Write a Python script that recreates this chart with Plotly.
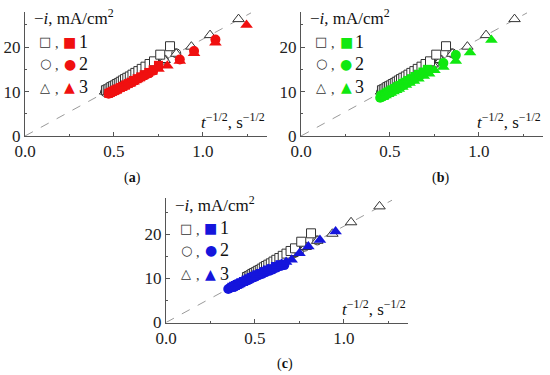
import plotly.graph_objects as go

W, H = 550, 375

# ---------------- data ----------------
# open reference markers (same in all three panels)
sq_x = [0.455,0.465,0.475,0.485,0.495,0.505,0.516,0.527,0.538,0.55,0.562,0.575,0.589,0.604,0.62,0.637,0.656,0.677,0.70,0.725,0.76,0.815]
sq_y = [10.3,10.5,10.7,11.0,11.2,11.4,11.7,11.9,12.2,12.5,12.8,13.1,13.4,13.8,14.2,14.6,15.1,15.6,16.2,16.8,18.3,20.2]
ci_x = [0.45,0.46,0.47,0.48,0.49,0.50,0.51,0.52,0.535,0.55,0.565,0.58,0.595,0.61,0.63,0.65,0.67,0.695,0.72,0.75,0.78,0.85]
ci_y = [9.9,10.1,10.3,10.5,10.7,10.9,11.1,11.3,11.7,12.0,12.3,12.7,13.0,13.3,13.8,14.2,14.6,15.2,15.7,16.4,17.2,18.6]
tr_x = [0.45,0.465,0.48,0.495,0.51,0.525,0.54,0.555,0.57,0.59,0.61,0.63,0.655,0.68,0.71,0.74,0.785,0.85,0.935,1.04,1.20]
tr_y = [10.0,10.2,10.5,10.8,11.1,11.4,11.8,12.1,12.4,12.9,13.3,13.7,14.3,14.8,15.5,16.1,17.1,18.5,20.1,22.7,26.3]

# panel (a) red
a_sq_x = [0.47,0.48,0.49,0.50,0.51,0.52,0.535,0.55,0.565,0.58,0.595,0.61,0.63,0.65,0.67,0.695,0.72,0.75]
a_sq_y = [9.6,9.8,10.0,10.2,10.4,10.6,10.9,11.2,11.5,11.8,12.1,12.5,12.9,13.3,13.8,14.3,14.9,15.9]
a_ci_x = [0.47,0.48,0.49,0.50,0.51,0.52,0.535,0.55,0.565,0.58,0.60,0.62,0.64,0.665,0.69,0.72,0.87,0.95,1.07]
a_ci_y = [9.5,9.7,9.9,10.1,10.3,10.5,10.8,11.1,11.4,11.7,12.1,12.5,13.0,13.5,14.0,14.7,17.2,19.1,21.7]
a_tr_x = [0.48,0.495,0.51,0.525,0.54,0.555,0.57,0.59,0.61,0.63,0.655,0.68,0.71,0.75,0.80,0.87,0.95,1.07,1.245]
a_tr_y = [9.6,9.9,10.2,10.5,10.8,11.1,11.4,11.8,12.2,12.7,13.2,13.7,14.4,15.1,15.8,16.9,18.6,21.0,25.0]

# panel (b) green
b_sq_x = [0.45,0.46,0.47,0.48,0.49,0.50,0.51,0.525,0.54,0.555,0.57,0.585,0.60,0.62,0.64,0.66,0.685,0.71]
b_sq_y = [9.0,9.2,9.4,9.7,9.9,10.1,10.4,10.7,11.1,11.4,11.8,12.1,12.5,12.9,13.4,13.9,14.4,15.0]
b_ci_x = [0.445,0.455,0.465,0.475,0.485,0.495,0.505,0.52,0.535,0.55,0.565,0.58,0.60,0.62,0.64,0.665,0.69,0.72,0.80,0.87]
b_ci_y = [8.6,8.8,9.0,9.2,9.5,9.7,9.9,10.3,10.6,11.0,11.3,11.6,12.1,12.5,13.0,13.5,14.1,14.8,16.4,18.2]
b_tr_x = [0.46,0.475,0.49,0.505,0.52,0.535,0.55,0.57,0.59,0.61,0.635,0.66,0.69,0.72,0.75,0.80,0.87,0.95,1.07]
b_tr_y = [8.8,9.1,9.4,9.7,10.0,10.3,10.6,11.0,11.5,11.9,12.4,12.9,13.5,14.0,14.8,15.5,16.9,18.8,21.6]

# panel (c) blue
c_sq_x = [0.37,0.38,0.39,0.40,0.41,0.42,0.435,0.45,0.465,0.48,0.495,0.51,0.53,0.55,0.57,0.59,0.615,0.64]
c_sq_y = [8.0,8.2,8.4,8.6,8.8,9.0,9.3,9.6,9.9,10.2,10.5,10.8,11.1,11.5,11.9,12.2,12.7,13.1]
c_ci_x = [0.35,0.36,0.37,0.38,0.39,0.40,0.41,0.42,0.435,0.45,0.465,0.48,0.50,0.52,0.54,0.56,0.58,0.60,0.62,0.645,0.665]
c_ci_y = [7.6,7.8,8.0,8.1,8.3,8.5,8.7,8.9,9.2,9.4,9.7,10.0,10.3,10.7,11.0,11.4,11.7,12.0,12.4,12.8,13.0]
c_tr_x = [0.40,0.415,0.43,0.445,0.46,0.475,0.49,0.51,0.53,0.55,0.575,0.60,0.625,0.65,0.675,0.706,0.75,0.80,0.865,0.953]
c_tr_y = [8.7,9.0,9.3,9.6,9.9,10.2,10.5,10.9,11.3,11.7,12.1,12.5,12.9,13.3,13.7,14.2,15.7,17.2,18.7,20.6]

# dashed guide line
line_x = [0.0, 1.27]
line_y = [0.0, 27.7]

x_ticks = [0.0, 0.5, 1.0]
x_tick_text = ["0.0", "0.5", "1.0"]
y_ticks = [0, 10, 20]
y_tick_text = ["0", "10", "20"]
series_labels = ["1", "2", "3"]
captions = ["(<b>a</b>)", "(<b>b</b>)", "(<b>c</b>)"]

panels = [
    dict(col="#f01010", sq=(a_sq_x, a_sq_y), ci=(a_ci_x, a_ci_y), tr=(a_tr_x, a_tr_y),
         ox=25, oy=136, w=242, top=12, cap=(132, 178)),
    dict(col="#10e810", sq=(b_sq_x, b_sq_y), ci=(b_ci_x, b_ci_y), tr=(b_tr_x, b_tr_y),
         ox=301, oy=136, w=242, top=12, cap=(440, 178)),
    dict(col="#1515dc", sq=(c_sq_x, c_sq_y), ci=(c_ci_x, c_ci_y), tr=(c_tr_x, c_tr_y),
         ox=166, oy=322.5, w=242, top=198, cap=(285, 364)),
]

FONT = "Liberation Serif, Times New Roman, serif"
AX_COL = "#555555"
OPEN_COL = "#333333"

def px(x):
    return x / W

def py(y):
    return 1 - y / H

fig = go.Figure()
annotations = []

for i, p in enumerate(panels):
    n = "" if i == 0 else str(i + 1)
    xa, ya = "x" + n, "y" + n
    xrange_max = 1.36
    yrange_max = 27.9 if i < 2 else 28.2

    # dashed line
    fig.add_trace(go.Scatter(x=line_x, y=line_y, mode="lines", xaxis=xa, yaxis=ya,
                             line=dict(color="#9a9a9a", width=1, dash="dash"),
                             showlegend=False, hoverinfo="skip"))
    # open markers
    for (xs, ys, sym, sz) in [(ci_x, ci_y, "circle", 9), (tr_x, tr_y, "triangle-up", 10),
                              (sq_x, sq_y, "square", 9)]:
        fig.add_trace(go.Scatter(x=xs, y=ys, mode="markers", xaxis=xa, yaxis=ya,
                                 marker=dict(symbol=sym, size=sz, color="white",
                                             line=dict(color=OPEN_COL, width=1)),
                                 showlegend=False))
    # filled markers
    for (key, sym, sz) in [("sq", "square", 9), ("ci", "circle", 10), ("tr", "triangle-up", 11)]:
        xs, ys = p[key]
        fig.add_trace(go.Scatter(x=xs, y=ys, mode="markers", xaxis=xa, yaxis=ya,
                                 marker=dict(symbol=sym, size=sz, color=p["col"],
                                             line=dict(width=0)),
                                 showlegend=False))

    ax_common = dict(showline=True, linecolor=AX_COL, linewidth=1, showgrid=False,
                     zeroline=False, ticks="inside", ticklen=4, tickcolor=AX_COL,
                     automargin=False,
                     tickfont=dict(family=FONT, size=17, color="#222"))
    fig.update_layout(**{
        ("xaxis" + n): dict(ax_common, domain=[px(p["ox"]), px(p["ox"] + p["w"])],
                            range=[0, xrange_max], anchor=ya,
                            tickvals=x_ticks, ticktext=x_tick_text,
                            minor=dict(ticks="inside", ticklen=2, tickcolor=AX_COL,
                                       tick0=0, dtick=0.25)),
        ("yaxis" + n): dict(ax_common, domain=[py(p["oy"]), py(p["top"])],
                            range=[0, yrange_max], anchor=xa,
                            tickvals=y_ticks, ticktext=y_tick_text,
                            minor=dict(ticks="inside", ticklen=2, tickcolor=AX_COL,
                                       tick0=0, dtick=5)),
    })

    ox, oy = p["ox"], p["oy"]
    # header
    annotations.append(dict(x=px(ox + 7), y=py(oy - 119), xref="paper", yref="paper",
                            xanchor="left", yanchor="middle", showarrow=False,
                            text="\u2212<i>i</i>, mA/cm<sup>2</sup>",
                            font=dict(family=FONT, size=17, color="#111")))
    # legend rows
    rows = [("\u25a1", "\u25a0", -94), ("\u25cb", "\u25cf", -72.5), ("\u25b3", "\u25b2", -49)]
    for k, (og, fg, dy) in enumerate(rows):
        y = py(oy + dy)
        annotations.append(dict(x=px(ox + 20), y=y, xref="paper", yref="paper",
                                xanchor="center", yanchor="middle", showarrow=False,
                                text=og, font=dict(family="DejaVu Sans", size=13, color=OPEN_COL)))
        annotations.append(dict(x=px(ox + 32), y=py(oy + dy + 2), xref="paper", yref="paper",
                                xanchor="center", yanchor="middle", showarrow=False,
                                text=",", font=dict(family=FONT, size=14, color="#333")))
        annotations.append(dict(x=px(ox + 45), y=y, xref="paper", yref="paper",
                                xanchor="center", yanchor="middle", showarrow=False,
                                text=fg, font=dict(family="DejaVu Sans", size=14, color=p["col"])))
        annotations.append(dict(x=px(ox + 58), y=y, xref="paper", yref="paper",
                                xanchor="center", yanchor="middle", showarrow=False,
                                text=series_labels[k], font=dict(family=FONT, size=18, color="#111")))
    # axis title
    annotations.append(dict(x=px(ox + p["w"]), y=py(oy - 15), xref="paper", yref="paper",
                            xanchor="right", yanchor="middle", showarrow=False,
                            text="<i>t</i><sup>\u22121/2</sup>, s<sup>\u22121/2</sup>",
                            font=dict(family=FONT, size=17, color="#111")))
    # caption
    annotations.append(dict(x=px(p["cap"][0]), y=py(p["cap"][1]), xref="paper", yref="paper",
                            xanchor="center", yanchor="middle", showarrow=False,
                            text=captions[i], font=dict(family=FONT, size=14, color="#111")))

fig.update_layout(width=W, height=H, margin=dict(l=0, r=0, t=0, b=0),
                  paper_bgcolor="white", plot_bgcolor="white",
                  annotations=annotations, showlegend=False)

# remove the default 8px page margin so the figure fills the window exactly
fig.write_html("out.html", config={"displayModeBar": False},
               post_script="document.body.style.margin='0';document.body.style.padding='0';")
